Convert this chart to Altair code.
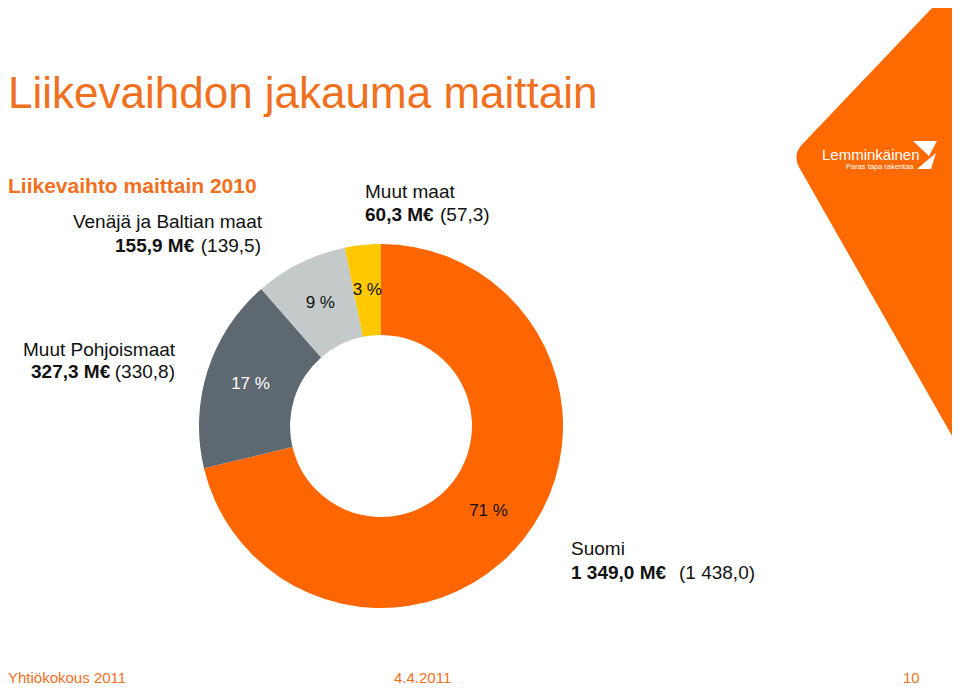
import altair as alt
import pandas as pd

# ---- data ----
regions = ["Suomi", "Muut Pohjoismaat", "Venäjä ja Baltian maat", "Muut maat"]
revenue_2010 = [1349.0, 327.3, 155.9, 60.3]
revenue_2009 = ["1 438,0", "330,8", "139,5", "57,3"]
revenue_2010_txt = ["1 349,0 M€", "327,3 M€", "155,9 M€", "60,3 M€"]
pct_labels = ["71 %", "17 %", "9 %", "3 %"]
slice_colors = ["#FF6600", "#5E6870", "#C4C9C9", "#FFC800"]
pct_label_colors = ["#111111", "#FFFFFF", "#111111", "#111111"]

ORANGE_TXT = "#F0701E"
FONT = "Liberation Sans"

df = pd.DataFrame({
    "region": regions,
    "value": revenue_2010,
    "idx": list(range(len(regions))),
    "pct": pct_labels,
    "lc": pct_label_colors,
})

CX, CY = 373, 418

base = alt.Chart(df).encode(
    theta=alt.Theta("value:Q", stack=True),
    order=alt.Order("idx:Q"),
)

arcs = base.mark_arc(outerRadius=182, innerRadius=91, stroke=None).encode(
    x=alt.value(CX), y=alt.value(CY),
    color=alt.Color("region:N", scale=alt.Scale(domain=regions, range=slice_colors), legend=None),
)

pcts = base.mark_text(radius=137, fontSize=17, font=FONT, baseline="middle", align="center").encode(
    x=alt.value(CX), y=alt.value(CY),
    text="pct:N",
    color=alt.Color("lc:N", scale=None),
)


def label(text, x, y, size=19, weight="normal", color="#111111", align="left", font=FONT):
    return alt.Chart(pd.DataFrame({"t": [text]})).mark_text(
        fontSize=size, fontWeight=weight, color=color, align=align, baseline="alphabetic", font=font
    ).encode(x=alt.value(x), y=alt.value(y), text="t:N")


# decorative corner shape (logo backdrop)
corner_path = "M925,-1 Q938,-15 958,-14 L1100,200 L1100,600 L1042,600 L791.5,160 Q784,147 794.5,136 Z"
corner = alt.Chart(pd.DataFrame({"k": [0]})).mark_point(
    shape=corner_path, size=4, filled=True, fill="#FF6A00", strokeWidth=0, opacity=1
).encode(x=alt.value(0), y=alt.value(0))

icon_path = "M905,133 L929,133 L921,148 Z M909,161 L928,145 L923,161 Z"
icon = alt.Chart(pd.DataFrame({"k": [0]})).mark_point(
    shape=icon_path, size=4, filled=True, fill="#FFFFFF", strokeWidth=0, opacity=1
).encode(x=alt.value(0), y=alt.value(0))

FOOT_FONT = "Liberation Sans Narrow, Liberation Sans"

texts = [
    label("Liikevaihdon jakauma maittain", 0, 100, size=44, color=ORANGE_TXT),
    label("Liikevaihto maittain 2010", 0, 185, size=21, weight="bold", color=ORANGE_TXT),
    # Venäjä
    label(regions[2], 254, 220, align="right"),
    label(revenue_2010_txt[2], 107, 244, weight="bold"),
    label("(" + revenue_2009[2] + ")", 253, 244, align="right"),
    # Muut maat
    label(regions[3], 357, 190),
    label(revenue_2010_txt[3], 357, 213, weight="bold"),
    label("(" + revenue_2009[3] + ")", 432, 213),
    # Muut Pohjoismaat
    label(regions[1], 15, 348),
    label(revenue_2010_txt[1], 23, 370, weight="bold"),
    label("(" + revenue_2009[1] + ")", 167, 370, align="right"),
    # Suomi
    label(regions[0], 563, 547),
    label(revenue_2010_txt[0], 563, 571, weight="bold"),
    label("(" + revenue_2009[0] + ")", 671, 571),
    # logo
    label("Lemminkäinen", 814, 152, size=15, color="#FFFFFF"),
    label("Paras tapa rakentaa", 838, 161, size=7.5, color="#FFFFFF"),
    # footer
    label("Yhtiökokous 2011", 0, 675, size=15, color=ORANGE_TXT, font=FOOT_FONT),
    label("4.4.2011", 386, 675, size=15, color=ORANGE_TXT, font=FOOT_FONT),
    label("10", 895, 675, size=15, color=ORANGE_TXT, font=FOOT_FONT),
]

chart = alt.layer(corner, icon, arcs, pcts, *texts).properties(
    width=944, height=680, padding=0, autosize=alt.AutoSizeParams(type="none")
).configure_view(stroke=None)

chart.save("out.html", embed_options={"renderer": "svg", "actions": False})
